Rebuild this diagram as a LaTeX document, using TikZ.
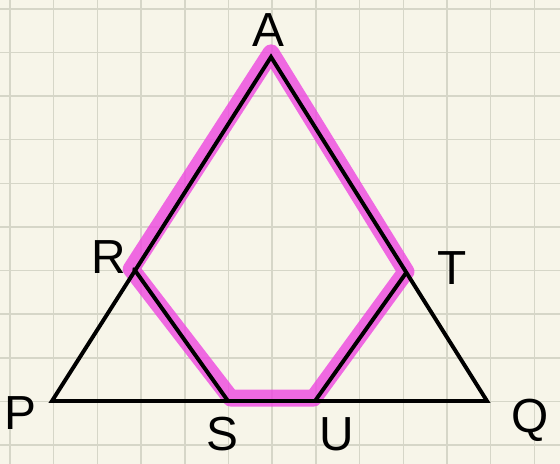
\documentclass[tikz,border=0pt]{standalone}
\usepackage{fontspec}
\setmainfont{Liberation Sans}
\usetikzlibrary{positioning}
\definecolor{paper}{RGB}{247,245,233}
\definecolor{gridln}{RGB}{214,214,200}
\definecolor{hilite}{RGB}{238,70,224}

\begin{document}
\begin{tikzpicture}[x=0.025cm,y=-0.025cm, edge/.style={line width=2.8pt,line cap=round,line join=miter}, hl/.style={line width=12pt,hilite,opacity=0.8,line cap=round,line join=round}, lbl/.style={font=\fontsize{34}{40}\selectfont,inner sep=0pt}]
\fill[paper] (0,0) rectangle (560,464);
\useasboundingbox (0,0) rectangle (560,464);
\foreach \i in {0,...,12} {\draw[gridln,line width=1pt] ({10+43.7*\i},0) -- ({10+43.7*\i},464);}
\foreach \j in {0,...,10} {\draw[gridln,line width=1pt] (0,{9+43.6*\j}) -- (560,{9+43.6*\j});}
% points
\coordinate (A) at (271,57);
\coordinate (P) at (52,401);
\coordinate (Q) at (487,401);
\coordinate (R) at (134,269);
\coordinate (T) at (406,273);
\coordinate (S) at (228,401);
\coordinate (U) at (315,401);
% highlighted path
\draw[hl] ([yshift=3pt]A) -- ([xshift=-2pt]R) -- ([xshift=2pt,yshift=2pt]S) -- ([xshift=-1pt,yshift=2pt]U) -- ([yshift=1pt]T) -- cycle;
% triangle and cuts
\draw[edge] (P) -- (A) -- (Q) -- cycle;
\draw[edge] (R) -- (S);
\draw[edge] (U) -- (T);
% labels
\node[lbl] (labA) at (268,30) {A};
\node[lbl] (labR) at (109,257) {R};
\node[lbl] (labT) at (452,268) {T};
\node[lbl] (labP) at (20,413) {P};
\node[lbl] (labQ) at (530,420) {Q};
\node[lbl] (labS) at (222,434) {S};
\node[lbl] (labU) at (337,434) {U};
\end{tikzpicture}
\end{document}
